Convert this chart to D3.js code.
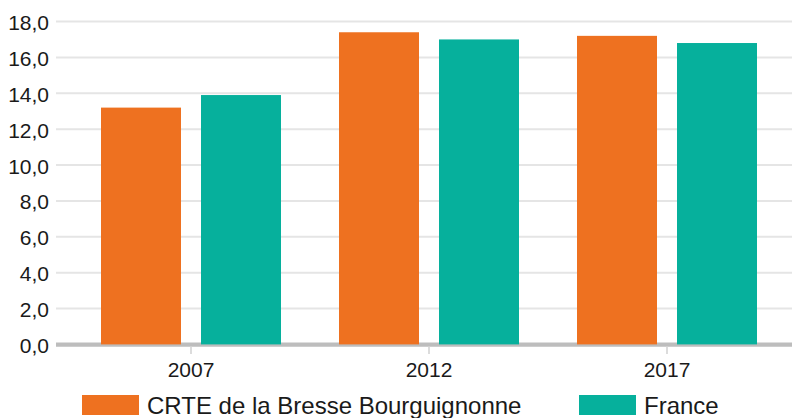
<!DOCTYPE html>
<html>
<head>
<meta charset="utf-8">
<script src="https://cdn.jsdelivr.net/npm/d3@7"></script>
<style>
  body { margin: 0; background: #fff; }
  svg { display: block; font-family: "Liberation Sans", Arial, Helvetica, sans-serif; }
</style>
</head>
<body>
<svg id="vis" width="792" height="418"></svg>
<script>
// chart values
const years = ["2007", "2012", "2017"];
const series = ["CRTE de la Bresse Bourguignonne", "France"];
const crte = [13.2, 17.4, 17.2];
const france = [13.9, 17.0, 16.8];
const yTicks = [0, 2, 4, 6, 8, 10, 12, 14, 16, 18];

const colors = ["#ee7120", "#06b09c"];

const svg = d3.select("svg#vis");

const plot = { left: 56, right: 792, top: 21.5, bottom: 344.4 };

const x = d3.scaleBand()
  .domain(years)
  .range([72, 786]);

const xSub = d3.scaleBand()
  .domain(series)
  .range([0, 180])
  .paddingInner(0.2);

const y = d3.scaleLinear()
  .domain([0, 18])
  .range([plot.bottom, plot.top]);

const fmt = d => d.toFixed(1).replace(".", ",");

// gridlines
const grid = svg.append("g").attr("id", "grid");
grid.selectAll("line")
  .data(yTicks.filter(d => d > 0))
  .enter()
  .append("line")
  .attr("x1", plot.left)
  .attr("x2", plot.right)
  .attr("y1", d => y(d))
  .attr("y2", d => y(d))
  .attr("stroke", "#e5e5e5")
  .attr("stroke-width", 2);

// y labels
svg.append("g").selectAll("text")
  .data(yTicks)
  .enter()
  .append("text")
  .attr("x", 49)
  .attr("y", d => y(d) + 8.5)
  .attr("text-anchor", "end")
  .attr("font-size", 21)
  .attr("fill", "#1a1a1a")
  .text(fmt);

// baseline + ticks
svg.append("line")
  .attr("x1", plot.left)
  .attr("x2", plot.right)
  .attr("y1", y(0) + 0.2)
  .attr("y2", y(0) + 0.2)
  .attr("stroke", "#bdbdbd")
  .attr("stroke-width", 4.4);

svg.append("g").selectAll("line")
  .data(years)
  .enter()
  .append("line")
  .attr("x1", d => x(d) + x.bandwidth() / 2)
  .attr("x2", d => x(d) + x.bandwidth() / 2)
  .attr("y1", y(0) + 2.4)
  .attr("y2", y(0) + 9.6)
  .attr("stroke", "#dcdcdc")
  .attr("stroke-width", 2);

// bars
const rows = years.map((yr, i) => ({ year: yr, values: [crte[i], france[i]] }));
const offset = (x.bandwidth() - 180) / 2;

const groups = svg.append("g").attr("id", "bars")
  .selectAll("g")
  .data(rows)
  .enter()
  .append("g")
  .attr("transform", d => `translate(${x(d.year) + offset},0)`);

groups.selectAll("rect")
  .data(d => d.values.map((v, j) => ({ key: series[j], value: v, color: colors[j] })))
  .enter()
  .append("rect")
  .attr("x", d => xSub(d.key))
  .attr("width", xSub.bandwidth())
  .attr("y", d => y(d.value))
  .attr("height", d => y(0) - y(d.value))
  .attr("fill", d => d.color);

// x labels
svg.append("g").selectAll("text")
  .data(years)
  .enter()
  .append("text")
  .attr("x", d => x(d) + x.bandwidth() / 2)
  .attr("y", 376.5)
  .attr("text-anchor", "middle")
  .attr("font-size", 21)
  .attr("fill", "#1a1a1a")
  .text(d => d);

// legend
const legendX = [82, 579];
const legend = svg.append("g").attr("id", "legend")
  .selectAll("g")
  .data(series)
  .enter()
  .append("g")
  .attr("transform", (d, i) => `translate(${legendX[i]},395)`);

legend.append("rect")
  .attr("width", 57)
  .attr("height", 20)
  .attr("fill", (d, i) => colors[i]);

legend.append("text")
  .attr("x", 65)
  .attr("y", 18.6)
  .attr("font-size", 24)
  .attr("fill", "#1a1a1a")
  .text(d => d);
</script>
</body>
</html>
